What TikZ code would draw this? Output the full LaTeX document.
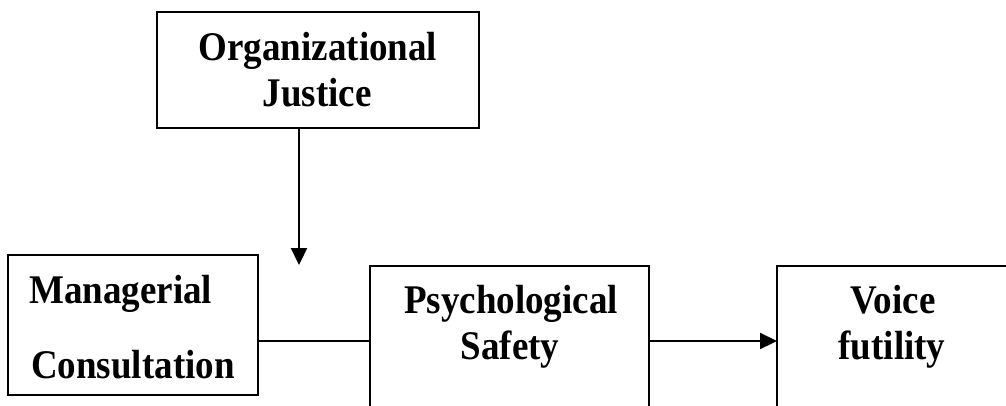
\documentclass[tikz,border=0pt]{standalone}
\usepackage{fontspec}
\setmainfont{Liberation Serif}
\usetikzlibrary{arrows.meta}
\tikzset{
  box/.style={draw, line width=2.2pt, inner sep=0pt, outer sep=0pt},
  lbl/.style={inner sep=0pt, anchor=base, yscale=1.1, transform shape, font=\fontsize{37}{44}\selectfont\bfseries},
  lblw/.style={lbl, anchor=base west},
  conn/.style={line width=2.2pt},
  arr/.style={conn, -{Triangle[length=17pt,width=16pt]}}
}
\begin{document}
\begin{tikzpicture}[x=1pt,y=1pt]
\clip (0,0) rectangle (1006,-405);
\fill[white] (0,0) rectangle (1006,-405);
% boxes
\node[box, minimum width=322pt, minimum height=116pt] (org) at (318,-70) {};
\node[box, minimum width=250pt, minimum height=140pt] (mgr) at (133,-325) {};
\node[box, minimum width=279pt, minimum height=174pt] (psy) at (509.5,-353) {};
\node[box, minimum width=231pt, minimum height=174pt] (voi) at (892.5,-353) {};
% texts
\node[lbl] (t1) at (318,-60) {Organizational};
\node[lbl] (t2) at (317,-106) {Justice};
\node[lblw] (t3) at (29,-303) {Managerial};
\node[lblw] (t4) at (31,-378) {Consultation};
\node[lbl] (t5) at (511,-313) {Psychological};
\node[lbl] (t6) at (510,-359) {Safety};
\node[lbl] (t7) at (893,-313) {Voice};
\node[lbl] (t8) at (892,-359) {futility};
% connectors
\coordinate (tip) at (299,-265);
\coordinate (j) at (370,-341);
\draw[arr] (org.south -| tip) -- (tip);
\draw[conn] (mgr.east |- j) -- (psy.west |- j);
\draw[arr] (psy.east |- j) -- (voi.west |- j);
\end{tikzpicture}
\end{document}
